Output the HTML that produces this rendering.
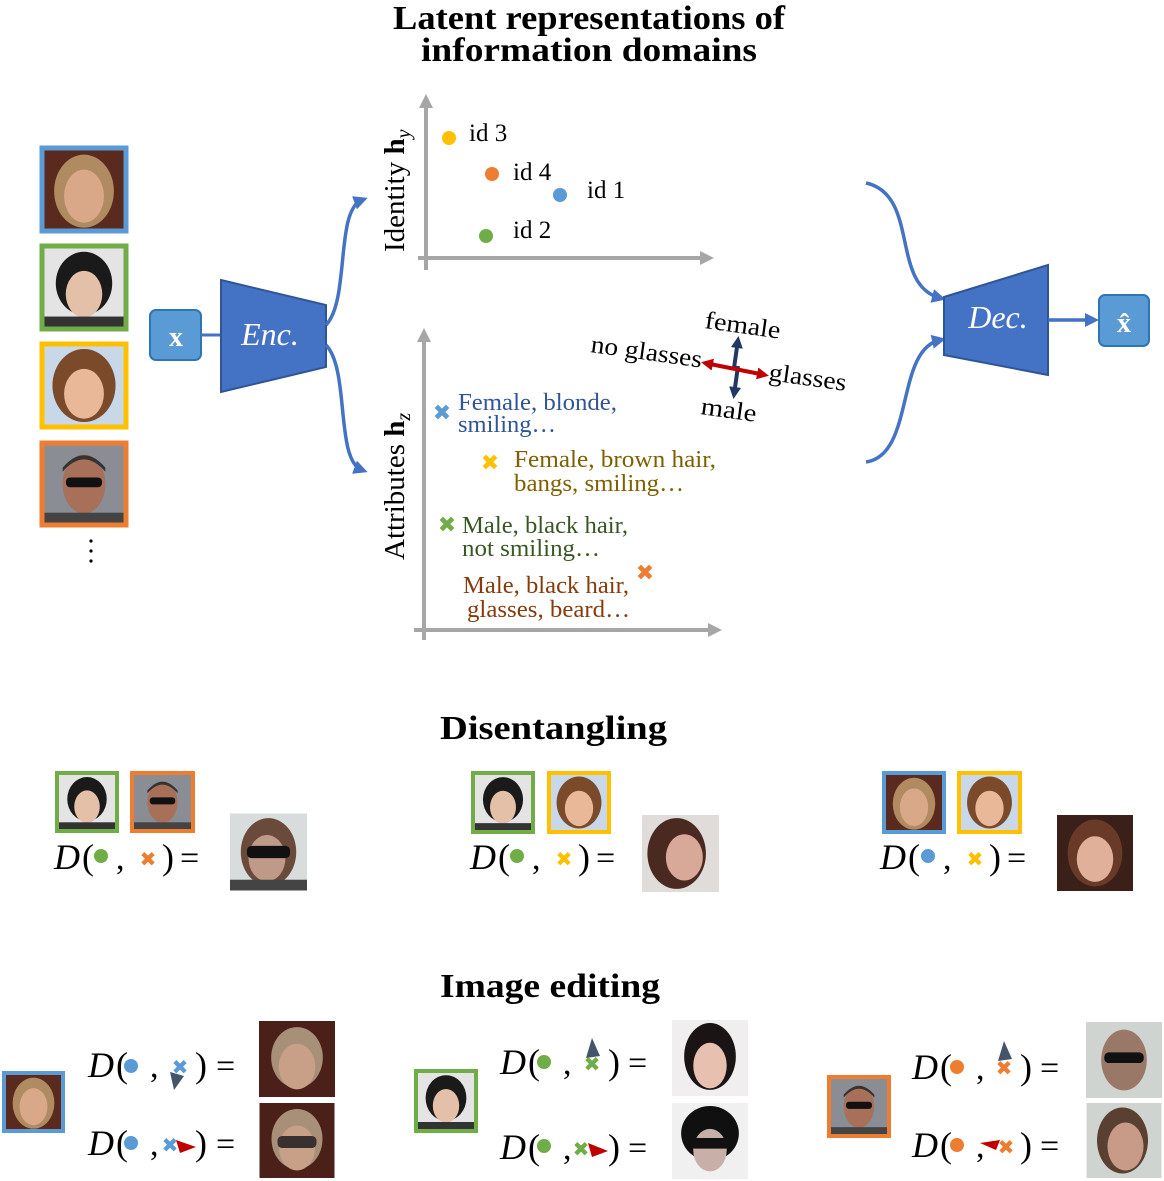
<!DOCTYPE html>
<html><head><meta charset="utf-8"><style>
html,body{margin:0;padding:0;background:#fff}
svg{display:block}
text{font-family:"Liberation Serif",serif}
</style></head><body>
<svg width="1164" height="1181" viewBox="0 0 1164 1181" xmlns="http://www.w3.org/2000/svg">
<defs>
<marker id="ab" markerWidth="14" markerHeight="14" refX="8" refY="7" orient="auto" markerUnits="userSpaceOnUse"><path d="M0,0 L14,7 L0,14 z" fill="#4472c4"/></marker>
<marker id="ag" markerWidth="14" markerHeight="14" refX="10" refY="7" orient="auto" markerUnits="userSpaceOnUse"><path d="M0,0 L14,7 L0,14 z" fill="#a6a6a6"/></marker>
<marker id="ar" markerWidth="12" markerHeight="12" refX="8" refY="6" orient="auto" markerUnits="userSpaceOnUse"><path d="M0,0 L12,6 L0,12 z" fill="#c00000"/></marker>
<marker id="ad" markerWidth="12" markerHeight="12" refX="8" refY="6" orient="auto" markerUnits="userSpaceOnUse"><path d="M0,0 L12,6 L0,12 z" fill="#203864"/></marker>
<symbol id="fW" viewBox="0 0 100 100"><rect width="100" height="100" fill="#5a2a1e"/><ellipse cx="50" cy="52" rx="36" ry="44" fill="#b08a60"/><ellipse cx="50" cy="58" rx="24" ry="32" fill="#d8a888"/></symbol>
<symbol id="fA" viewBox="0 0 100 100"><rect width="100" height="100" fill="#e4e4e4"/><ellipse cx="50" cy="45" rx="34" ry="38" fill="#1a1a1a"/><ellipse cx="50" cy="58" rx="22" ry="28" fill="#e4c0a8"/><rect x="0" y="85" width="100" height="15" fill="#333"/></symbol>
<symbol id="fY" viewBox="0 0 100 100"><rect width="100" height="100" fill="#c8d8e8"/><ellipse cx="50" cy="50" rx="38" ry="44" fill="#7a4a2a"/><ellipse cx="50" cy="60" rx="24" ry="30" fill="#e8b898"/></symbol>
<symbol id="fM" viewBox="0 0 100 100"><rect width="100" height="100" fill="#8a8e94"/><ellipse cx="50" cy="50" rx="26" ry="36" fill="#a87058"/><path d="M24 35 Q50 5 76 35 L76 30 Q50 0 24 30z" fill="#333"/><rect x="28" y="42" width="44" height="12" rx="5" fill="#111"/><rect x="0" y="85" width="100" height="15" fill="#444"/></symbol>
<symbol id="fR1" viewBox="0 0 100 100"><rect width="100" height="100" fill="#d8dcdc"/><ellipse cx="50" cy="50" rx="36" ry="44" fill="#6a4a3a"/><ellipse cx="48" cy="58" rx="24" ry="30" fill="#c09a88"/><rect x="22" y="42" width="56" height="16" rx="6" fill="#111"/><rect x="0" y="86" width="100" height="14" fill="#444"/></symbol>
<symbol id="fR2" viewBox="0 0 100 100"><rect width="100" height="100" fill="#e0dcda"/><ellipse cx="45" cy="50" rx="38" ry="46" fill="#4a2a20"/><ellipse cx="55" cy="55" rx="24" ry="30" fill="#d8a898"/></symbol>
<symbol id="fR3" viewBox="0 0 100 100"><rect width="100" height="100" fill="#3a2018"/><ellipse cx="50" cy="50" rx="36" ry="44" fill="#6a3a28"/><ellipse cx="50" cy="58" rx="24" ry="30" fill="#e0b09a"/></symbol>
<symbol id="fE1" viewBox="0 0 100 100"><rect width="100" height="100" fill="#4a2018"/><ellipse cx="50" cy="48" rx="34" ry="40" fill="#a89078"/><ellipse cx="50" cy="60" rx="24" ry="30" fill="#c8a088"/></symbol>
<symbol id="fE2" viewBox="0 0 100 100"><rect width="100" height="100" fill="#4a2018"/><ellipse cx="50" cy="48" rx="34" ry="40" fill="#a89078"/><ellipse cx="50" cy="60" rx="24" ry="30" fill="#c8a088"/><rect x="24" y="44" width="52" height="16" rx="6" fill="#3a3030"/></symbol>
<symbol id="fE3" viewBox="0 0 100 100"><rect width="100" height="100" fill="#f0eeee"/><ellipse cx="50" cy="48" rx="34" ry="44" fill="#1a1414"/><ellipse cx="50" cy="60" rx="22" ry="30" fill="#e8c0b0"/></symbol>
<symbol id="fE4" viewBox="0 0 100 100"><rect width="100" height="100" fill="#f0f0f0"/><ellipse cx="50" cy="40" rx="38" ry="36" fill="#101010"/><ellipse cx="50" cy="62" rx="22" ry="28" fill="#c8b0a8"/><rect x="24" y="46" width="52" height="14" rx="6" fill="#111"/></symbol>
<symbol id="fE5" viewBox="0 0 100 100"><rect width="100" height="100" fill="#d0d4d0"/><ellipse cx="50" cy="50" rx="30" ry="40" fill="#9a7868"/><rect x="24" y="40" width="52" height="14" rx="6" fill="#111"/></symbol>
<symbol id="fE6" viewBox="0 0 100 100"><rect width="100" height="100" fill="#d0d4d0"/><ellipse cx="48" cy="50" rx="34" ry="44" fill="#5a4030"/><ellipse cx="52" cy="58" rx="24" ry="32" fill="#c89a88"/></symbol>
</defs>

<!-- Title -->
<text x="393" y="29" font-size="34" font-weight="bold" textLength="392" lengthAdjust="spacingAndGlyphs">Latent representations of</text>
<text x="421" y="61" font-size="34" font-weight="bold" textLength="336" lengthAdjust="spacingAndGlyphs">information domains</text>

<!-- face column -->
<use href="#fW" x="42" y="148" width="84" height="83"/><rect x="42" y="148" width="84" height="83" fill="none" stroke="#5b9bd5" stroke-width="5"/>
<use href="#fA" x="42" y="246" width="84" height="83"/><rect x="42" y="246" width="84" height="83" fill="none" stroke="#70ad47" stroke-width="5"/>
<use href="#fY" x="42" y="344" width="84" height="83"/><rect x="42" y="344" width="84" height="83" fill="none" stroke="#ffc000" stroke-width="5"/>
<use href="#fM" x="42" y="443" width="84" height="82"/><rect x="42" y="443" width="84" height="82" fill="none" stroke="#ed7d31" stroke-width="5"/>
<circle cx="91" cy="541" r="1.6" fill="#000"/><circle cx="91" cy="551" r="1.6" fill="#000"/><circle cx="91" cy="561" r="1.6" fill="#000"/>

<!-- x box and encoder -->
<rect x="150" y="310" width="51" height="50" rx="6" fill="#5b9bd5" stroke="#2e75b6" stroke-width="2"/>
<text x="176" y="346" font-size="28" font-weight="bold" fill="#fff" text-anchor="middle">x</text>
<line x1="201" y1="335" x2="222" y2="335" stroke="#4472c4" stroke-width="3"/>
<polygon points="221,280 326,305 326,367 221,392" fill="#4472c4" stroke="#2f5597" stroke-width="2"/>
<text x="270" y="345" font-size="32" font-style="italic" fill="#fff" text-anchor="middle">Enc.</text>
<path d="M326,325 C350,300 335,210 362,200" fill="none" stroke="#4472c4" stroke-width="3.5" marker-end="url(#ab)"/>
<path d="M326,345 C350,370 335,460 362,470" fill="none" stroke="#4472c4" stroke-width="3.5" marker-end="url(#ab)"/>

<!-- Top axis -->
<line x1="426" y1="270" x2="426" y2="98" stroke="#a6a6a6" stroke-width="4" marker-end="url(#ag)"/>
<line x1="418" y1="258" x2="710" y2="258" stroke="#a6a6a6" stroke-width="4" marker-end="url(#ag)"/>
<text transform="translate(404,252) rotate(-90)" font-size="29">Identity <tspan font-weight="bold">h</tspan><tspan font-style="italic" font-size="20" dy="6">y</tspan></text>
<circle cx="449" cy="138" r="7" fill="#ffc000"/><text x="469" y="141" font-size="25">id 3</text>
<circle cx="492" cy="174" r="7" fill="#ed7d31"/><text x="513" y="180" font-size="25">id 4</text>
<circle cx="560" cy="195" r="7" fill="#5b9bd5"/><text x="587" y="198" font-size="25">id 1</text>
<circle cx="486" cy="236" r="7" fill="#70ad47"/><text x="513" y="238" font-size="25">id 2</text>

<!-- Bottom axis -->
<line x1="424" y1="640" x2="424" y2="332" stroke="#a6a6a6" stroke-width="4" marker-end="url(#ag)"/>
<line x1="414" y1="630" x2="718" y2="630" stroke="#a6a6a6" stroke-width="4" marker-end="url(#ag)"/>
<text transform="translate(404,560) rotate(-90)" font-size="29">Attributes <tspan font-weight="bold">h</tspan><tspan font-style="italic" font-size="20" dy="6">z</tspan></text>

<text x="442" y="420" font-size="22" fill="#5b9bd5" text-anchor="middle" font-family="DejaVu Sans">✖</text>
<text x="458" y="410" font-size="24" fill="#2f5597" textLength="159" lengthAdjust="spacingAndGlyphs">Female, blonde,</text>
<text x="458" y="432" font-size="24" fill="#2f5597" textLength="98" lengthAdjust="spacingAndGlyphs">smiling…</text>
<text x="490" y="470" font-size="22" fill="#ffc000" text-anchor="middle" font-family="DejaVu Sans">✖</text>
<text x="514" y="467" font-size="24" fill="#7f6000" textLength="202" lengthAdjust="spacingAndGlyphs">Female, brown hair,</text>
<text x="514" y="491" font-size="24" fill="#7f6000" textLength="170" lengthAdjust="spacingAndGlyphs">bangs, smiling…</text>
<text x="447" y="532" font-size="22" fill="#70ad47" text-anchor="middle" font-family="DejaVu Sans">✖</text>
<text x="462" y="533" font-size="24" fill="#385723" textLength="166" lengthAdjust="spacingAndGlyphs">Male, black hair,</text>
<text x="462" y="556" font-size="24" fill="#385723" textLength="138" lengthAdjust="spacingAndGlyphs">not smiling…</text>
<text x="645" y="580" font-size="22" fill="#ed7d31" text-anchor="middle" font-family="DejaVu Sans">✖</text>
<text x="463" y="593" font-size="24" fill="#843c0c" textLength="166" lengthAdjust="spacingAndGlyphs">Male, black hair,</text>
<text x="467" y="617" font-size="24" fill="#843c0c" textLength="163" lengthAdjust="spacingAndGlyphs">glasses, beard…</text>

<!-- cross arrows -->
<line x1="734" y1="368" x2="738" y2="340" stroke="#203864" stroke-width="4" marker-end="url(#ad)"/>
<line x1="738" y1="366" x2="734" y2="395" stroke="#203864" stroke-width="4" marker-end="url(#ad)"/>
<line x1="735" y1="369" x2="705" y2="363" stroke="#c00000" stroke-width="4" marker-end="url(#ar)"/>
<line x1="735" y1="369" x2="765" y2="375" stroke="#c00000" stroke-width="4" marker-end="url(#ar)"/>
<text transform="translate(704,328) rotate(8)" font-size="25" textLength="76" lengthAdjust="spacingAndGlyphs">female</text>
<text transform="translate(590,352) rotate(8)" font-size="25" textLength="112" lengthAdjust="spacingAndGlyphs">no glasses</text>
<text transform="translate(768,380) rotate(8)" font-size="25" textLength="78" lengthAdjust="spacingAndGlyphs">glasses</text>
<text transform="translate(700,414) rotate(8)" font-size="25" textLength="56" lengthAdjust="spacingAndGlyphs">male</text>

<!-- Decoder -->
<path d="M866,183 C920,195 890,285 940,298" fill="none" stroke="#4472c4" stroke-width="3.5" marker-end="url(#ab)"/>
<path d="M866,462 C915,455 895,350 940,340" fill="none" stroke="#4472c4" stroke-width="3.5" marker-end="url(#ab)"/>
<polygon points="944,297 1048,265 1048,375 944,355" fill="#4472c4" stroke="#2f5597" stroke-width="2"/>
<text x="998" y="328" font-size="32" font-style="italic" fill="#fff" text-anchor="middle">Dec.</text>
<line x1="1048" y1="320" x2="1093" y2="320" stroke="#4472c4" stroke-width="3.5" marker-end="url(#ab)"/>
<rect x="1099" y="295" width="50" height="51" rx="6" fill="#5b9bd5" stroke="#2e75b6" stroke-width="2"/>
<text x="1124" y="332" font-size="28" font-weight="bold" fill="#fff" text-anchor="middle">x̂</text>

<!-- Disentangling -->
<text x="440" y="739" font-size="34" font-weight="bold" textLength="227" lengthAdjust="spacingAndGlyphs">Disentangling</text>

<use href="#fA" x="57" y="773" width="60" height="58"/><rect x="57" y="773" width="60" height="58" fill="none" stroke="#70ad47" stroke-width="4"/>
<use href="#fM" x="132" y="773" width="61" height="58"/><rect x="132" y="773" width="61" height="58" fill="none" stroke="#ed7d31" stroke-width="4"/>
<text x="54" y="869" font-size="36" font-style="italic">D</text><text x="82" y="869" font-size="36">(</text>
<circle cx="101" cy="856" r="7" fill="#70ad47"/><text x="116" y="869" font-size="34">,</text>
<text x="148" y="866" font-size="20" fill="#ed7d31" text-anchor="middle" font-family="DejaVu Sans">✖</text>
<text x="162" y="869" font-size="36">)</text><text x="180" y="869" font-size="34">=</text>
<use href="#fR1" x="230" y="813" width="77" height="78"/>

<use href="#fA" x="473" y="773" width="60" height="59"/><rect x="473" y="773" width="60" height="59" fill="none" stroke="#70ad47" stroke-width="4"/>
<use href="#fY" x="549" y="773" width="60" height="59"/><rect x="549" y="773" width="60" height="59" fill="none" stroke="#ffc000" stroke-width="4"/>
<text x="470" y="869" font-size="36" font-style="italic">D</text><text x="498" y="869" font-size="36">(</text>
<circle cx="517" cy="856" r="7" fill="#70ad47"/><text x="532" y="869" font-size="34">,</text>
<text x="564" y="866" font-size="20" fill="#ffc000" text-anchor="middle" font-family="DejaVu Sans">✖</text>
<text x="578" y="869" font-size="36">)</text><text x="596" y="869" font-size="34">=</text>
<use href="#fR2" x="642" y="815" width="77" height="77"/>

<use href="#fW" x="884" y="773" width="60" height="59"/><rect x="884" y="773" width="60" height="59" fill="none" stroke="#5b9bd5" stroke-width="4"/>
<use href="#fY" x="959" y="773" width="61" height="59"/><rect x="959" y="773" width="61" height="59" fill="none" stroke="#ffc000" stroke-width="4"/>
<text x="880" y="869" font-size="36" font-style="italic">D</text><text x="908" y="869" font-size="36">(</text>
<circle cx="928" cy="856" r="7" fill="#5b9bd5"/><text x="943" y="869" font-size="34">,</text>
<text x="975" y="866" font-size="20" fill="#ffc000" text-anchor="middle" font-family="DejaVu Sans">✖</text>
<text x="989" y="869" font-size="36">)</text><text x="1007" y="869" font-size="34">=</text>
<use href="#fR3" x="1057" y="815" width="76" height="76"/>

<!-- Image editing -->
<text x="440" y="997" font-size="34" font-weight="bold" textLength="220" lengthAdjust="spacingAndGlyphs">Image editing</text>

<!-- group 1 -->
<use href="#fW" x="4" y="1073" width="59" height="58"/><rect x="4" y="1073" width="59" height="58" fill="none" stroke="#5b9bd5" stroke-width="4"/>
<text x="88" y="1077" font-size="36" font-style="italic">D</text><text x="116" y="1077" font-size="36">(</text>
<circle cx="131" cy="1066" r="7" fill="#5b9bd5"/><text x="150" y="1077" font-size="34">,</text>
<text x="180" y="1074" font-size="20" fill="#5b9bd5" text-anchor="middle" font-family="DejaVu Sans">✖</text>
<path d="M170,1072 L184,1076 L174,1090z" fill="#44546a"/>
<text x="195" y="1077" font-size="36">)</text><text x="216" y="1077" font-size="34">=</text>
<use href="#fE1" x="259" y="1021" width="76" height="76"/>
<text x="88" y="1155" font-size="36" font-style="italic">D</text><text x="116" y="1155" font-size="36">(</text>
<circle cx="131" cy="1143" r="7" fill="#5b9bd5"/><text x="150" y="1155" font-size="34">,</text>
<text x="170" y="1152" font-size="20" fill="#5b9bd5" text-anchor="middle" font-family="DejaVu Sans">✖</text>
<path d="M176,1140 L196,1147 L180,1153z" fill="#c00000"/>
<text x="195" y="1155" font-size="36">)</text><text x="216" y="1155" font-size="34">=</text>
<use href="#fE2" x="259" y="1103" width="76" height="75"/>

<!-- group 2 -->
<use href="#fA" x="416" y="1071" width="60" height="60"/><rect x="416" y="1071" width="60" height="60" fill="none" stroke="#70ad47" stroke-width="4"/>
<text x="500" y="1074" font-size="36" font-style="italic">D</text><text x="528" y="1074" font-size="36">(</text>
<circle cx="544" cy="1062" r="7" fill="#70ad47"/><text x="563" y="1074" font-size="34">,</text>
<path d="M586,1058 L592,1038 L600,1056z" fill="#44546a"/>
<text x="592" y="1071" font-size="20" fill="#70ad47" text-anchor="middle" font-family="DejaVu Sans">✖</text>
<text x="608" y="1074" font-size="36">)</text><text x="628" y="1074" font-size="34">=</text>
<use href="#fE3" x="672" y="1020" width="76" height="76"/>
<text x="500" y="1159" font-size="36" font-style="italic">D</text><text x="528" y="1159" font-size="36">(</text>
<circle cx="544" cy="1146" r="7" fill="#70ad47"/><text x="563" y="1159" font-size="34">,</text>
<text x="581" y="1156" font-size="20" fill="#70ad47" text-anchor="middle" font-family="DejaVu Sans">✖</text>
<path d="M588,1143 L608,1151 L592,1157z" fill="#c00000"/>
<text x="608" y="1159" font-size="36">)</text><text x="628" y="1159" font-size="34">=</text>
<use href="#fE4" x="672" y="1103" width="76" height="76"/>

<!-- group 3 -->
<use href="#fM" x="829" y="1077" width="60" height="59"/><rect x="829" y="1077" width="60" height="59" fill="none" stroke="#ed7d31" stroke-width="4"/>
<text x="912" y="1079" font-size="36" font-style="italic">D</text><text x="940" y="1079" font-size="36">(</text>
<circle cx="957" cy="1067" r="7" fill="#ed7d31"/><text x="976" y="1079" font-size="34">,</text>
<path d="M998,1061 L1004,1041 L1012,1059z" fill="#44546a"/>
<text x="1004" y="1075" font-size="20" fill="#ed7d31" text-anchor="middle" font-family="DejaVu Sans">✖</text>
<text x="1020" y="1079" font-size="36">)</text><text x="1040" y="1079" font-size="34">=</text>
<use href="#fE5" x="1086" y="1022" width="76" height="76"/>
<text x="912" y="1157" font-size="36" font-style="italic">D</text><text x="940" y="1157" font-size="36">(</text>
<circle cx="957" cy="1145" r="7" fill="#ed7d31"/><text x="976" y="1157" font-size="34">,</text>
<path d="M1000,1140 L980,1143 L996,1150z" fill="#c00000"/>
<text x="1006" y="1154" font-size="20" fill="#ed7d31" text-anchor="middle" font-family="DejaVu Sans">✖</text>
<text x="1020" y="1157" font-size="36">)</text><text x="1040" y="1157" font-size="34">=</text>
<use href="#fE6" x="1086" y="1103" width="76" height="75"/>
</svg>
</body></html>
